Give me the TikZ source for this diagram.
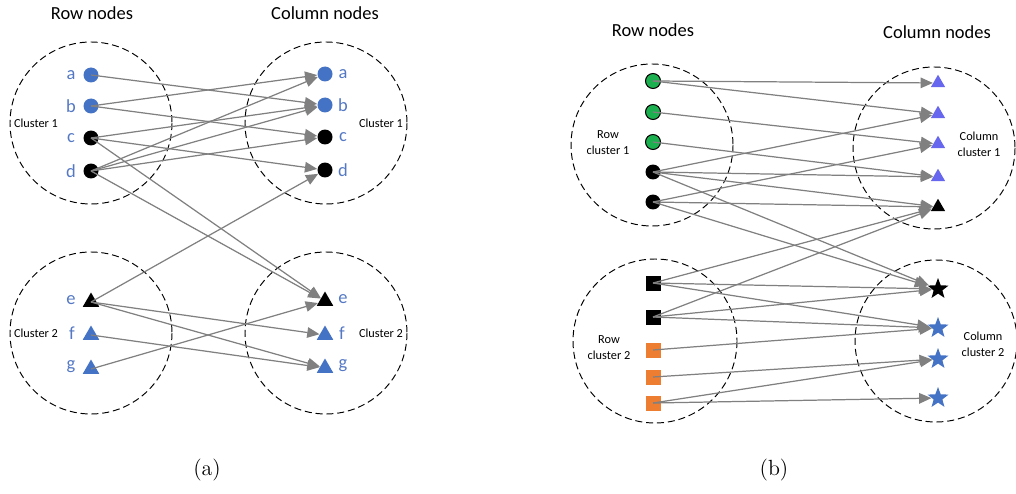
\documentclass[tikz,border=0pt]{standalone}
\usepackage{fontspec}
\newfontfamily\carlito{Carlito}
\usetikzlibrary{shapes.geometric,arrows.meta}
\definecolor{nodeblue}{RGB}{68,114,196}
\definecolor{labelblue}{RGB}{84,120,196}
\definecolor{nodegreen}{RGB}{29,176,80}
\definecolor{nodepurple}{RGB}{102,102,238}
\definecolor{nodeorange}{RGB}{237,125,49}
\definecolor{edgegray}{RGB}{128,128,128}

\begin{document}
\begin{tikzpicture}[x=0.02cm, y=-0.02cm,
    cluster/.style={draw, dash pattern=on 4pt off 2.2pt, line width=0.55pt},
    dot/.style={circle, inner sep=0pt, minimum size=0.3cm},
    tri/.style={regular polygon, regular polygon sides=3, inner sep=0pt, minimum size=0.38cm},
    smalltri/.style={regular polygon, regular polygon sides=3, inner sep=0pt, minimum size=0.33cm},
    starnode/.style={star, star points=5, star point ratio=2.4, inner sep=0pt, minimum size=0.44cm},
    box/.style={rectangle, inner sep=0pt, minimum size=0.3cm},
    letter/.style={font=\carlito\fontsize{10.5}{12}\selectfont, text=labelblue},
    heading/.style={font=\carlito\fontsize{10.5}{12}\selectfont},
    clabel/.style={font=\carlito\fontsize{7}{9}\selectfont, align=center},
    link/.style={draw=edgegray, line width=0.7pt, -{Triangle[length=7pt,width=6pt]}}]
    \useasboundingbox (0,0) rectangle (1016,493);

    % (a)
    \draw[cluster] (91,123) circle[radius=81];
    \draw[cluster] (326,123) circle[radius=81];
    \draw[cluster] (91,333) circle[radius=81];
    \draw[cluster] (326,333) circle[radius=81];

    \draw (92,13) node[heading] (rowa) {Row nodes};
    \draw (325,13) node[heading] (cola) {Column nodes};
    \draw (36,123) node[clabel] (cla1) {Cluster 1};
    \draw (381,123) node[clabel] (cra1) {Cluster 1};
    \draw (36,333) node[clabel] (cla2) {Cluster 2};
    \draw (381,333) node[clabel] (cra2) {Cluster 2};

    \draw (91,75) node[dot, fill=nodeblue] (ra) {};
    \draw (91,106) node[dot, fill=nodeblue] (rb) {};
    \draw (91,138) node[dot, fill=black] (rc) {};
    \draw (91,171) node[dot, fill=black] (rd) {};
    \draw (91,302) node[tri, fill=black] (re) {};
    \draw (91,335) node[tri, fill=nodeblue] (rf) {};
    \draw (91,369) node[tri, fill=nodeblue] (rg) {};

    \draw (325,74) node[dot, fill=nodeblue] (ca) {};
    \draw (325,105) node[dot, fill=nodeblue] (cb) {};
    \draw (325,137) node[dot, fill=black] (cc) {};
    \draw (325,170) node[dot, fill=black] (cd) {};
    \draw (325,301) node[tri, fill=black] (ce) {};
    \draw (325,335) node[tri, fill=nodeblue] (cf) {};
    \draw (325,368) node[tri, fill=nodeblue] (cg) {};

    \draw (71,75) node[letter] (lra) {a};
    \draw (71,106) node[letter] (lrb) {b};
    \draw (71,138) node[letter] (lrc) {c};
    \draw (71,171) node[letter] (lrd) {d};
    \draw (71,300) node[letter] (lre) {e};
    \draw (72,333) node[letter] (lrf) {f};
    \draw (71,367) node[letter] (lrg) {g};
    \draw (343,74) node[letter] (lca) {a};
    \draw (343,105) node[letter] (lcb) {b};
    \draw (343,137) node[letter] (lcc) {c};
    \draw (343,170) node[letter] (lcd) {d};
    \draw (343,299) node[letter] (lce) {e};
    \draw (342,333) node[letter] (lcf) {f};
    \draw (343,366) node[letter] (lcg) {g};

    \draw[link] (ra.center) -- (cb);
    \draw[link] (rb.center) -- (ca);
    \draw[link] (rb.center) -- (cc);
    \draw[link] (rc.center) -- (cb);
    \draw[link] (rc.center) -- (cd);
    \draw[link] (rc.center) -- (ce);
    \draw[link] (rd.center) -- (ca);
    \draw[link] (rd.center) -- (cb);
    \draw[link] (rd.center) -- (cc);
    \draw[link] (rd.center) -- (ce);
    \draw[link] (re.center) -- (cd);
    \draw[link] (re.center) -- (cf);
    \draw[link] (re.center) -- (cg);
    \draw[link] (rf.center) -- (cg);
    \draw[link] (rg.center) -- (ce);

    \draw (207,470) node[font=\fontsize{12.5}{14}\selectfont] (capa) {(a)};

    % (b)
    \draw[cluster] (652,145) circle[radius=81];
    \draw[cluster] (934,148) circle[radius=81];
    \draw[cluster] (655,341) circle[radius=82];
    \draw[cluster] (936,341) circle[radius=81];

    \draw (653,30) node[heading] (rowb) {Row nodes};
    \draw (937,32) node[heading] (colb) {Column nodes};
    \draw (608,143) node[clabel] (clb1) {Row\\cluster 1};
    \draw (979,144) node[clabel] (crb1) {Column\\cluster 1};
    \draw (609,348) node[clabel] (clb2) {Row\\cluster 2};
    \draw (983,344) node[clabel] (crb2) {Column\\cluster 2};

    \draw (653,81) node[dot, draw=black, line width=0.6pt, fill=nodegreen] (p1) {};
    \draw (653,112) node[dot, draw=black, line width=0.6pt, fill=nodegreen] (p2) {};
    \draw (653,142) node[dot, draw=black, line width=0.6pt, fill=nodegreen] (p3) {};
    \draw (653,172) node[dot, fill=black] (p4) {};
    \draw (653,202) node[dot, fill=black] (p5) {};
    \draw (653,283) node[box, fill=black] (p6) {};
    \draw (653,317) node[box, fill=black] (p7) {};
    \draw (653,350) node[box, fill=nodeorange] (p8) {};
    \draw (653,377) node[box, fill=nodeorange] (p9) {};
    \draw (653,403) node[box, fill=nodeorange] (p10) {};

    \draw (938,83) node[smalltri, fill=nodepurple] (q1) {};
    \draw (938,114) node[smalltri, fill=nodepurple] (q2) {};
    \draw (938,144) node[smalltri, fill=nodepurple] (q3) {};
    \draw (938,177) node[smalltri, fill=nodepurple] (q4) {};
    \draw (938,207) node[smalltri, fill=black] (q5) {};
    \draw (938,289) node[starnode, fill=black] (q6) {};
    \draw (938,328) node[starnode, fill=nodeblue] (q7) {};
    \draw (938,359) node[starnode, fill=nodeblue] (q8) {};
    \draw (938,398) node[starnode, fill=nodeblue] (q9) {};

    \draw[link] (p1.center) -- (q1);
    \draw[link] (p1.center) -- (q2);
    \draw[link] (p2.center) -- (q3);
    \draw[link] (p3.center) -- (q4);
    \draw[link] (p4.center) -- (q2);
    \draw[link] (p4.center) -- (q4);
    \draw[link] (p4.center) -- (q5);
    \draw[link] (p4.center) -- (q6);
    \draw[link] (p5.center) -- (q3);
    \draw[link] (p5.center) -- (q5);
    \draw[link] (p5.center) -- (q6);
    \draw[link] (p6.center) -- (q5);
    \draw[link] (p6.center) -- (q6);
    \draw[link] (p6.center) -- (q7);
    \draw[link] (p7.center) -- (q5);
    \draw[link] (p7.center) -- (q6);
    \draw[link] (p7.center) -- (q7);
    \draw[link] (p8.center) -- (q7);
    \draw[link] (p9.center) -- (q8);
    \draw[link] (p10.center) -- (q8);
    \draw[link] (p10.center) -- (q9);

    \draw (774,470) node[font=\fontsize{12.5}{14}\selectfont] (capb) {(b)};
\end{tikzpicture}
\end{document}
